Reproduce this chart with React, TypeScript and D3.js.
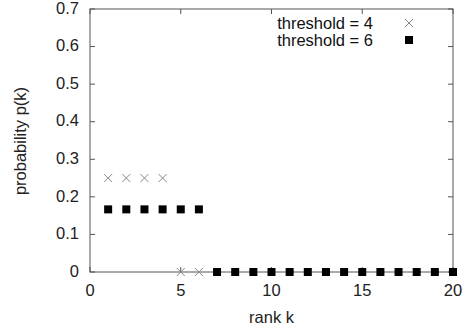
import { useEffect, useRef } from "react";
import * as d3 from "d3";

const ranks4 = [1, 2, 3, 4, 5, 6];
const probs4 = [0.25, 0.25, 0.25, 0.25, 0, 0];
const ranks6 = [1, 2, 3, 4, 5, 6, 7, 8, 9, 10, 11, 12, 13, 14, 15, 16, 17, 18, 19, 20];
const probs6 = [
  0.1667, 0.1667, 0.1667, 0.1667, 0.1667, 0.1667,
  0, 0, 0, 0, 0, 0, 0, 0, 0, 0, 0, 0, 0, 0,
];
const xTicks = [0, 5, 10, 15, 20];
const yTicks = [0, 0.1, 0.2, 0.3, 0.4, 0.5, 0.6, 0.7];
const seriesLabels = ["threshold = 4", "threshold = 6"];

export default function App() {
  const svgRef = useRef<SVGSVGElement>(null);

  useEffect(() => {
    const svg = d3.select(svgRef.current);
    svg.selectAll("*").remove();

    const width = 467;
    const height = 333;
    const left = 90, right = 453, top = 9, bottom = 272;
    const font = "'Liberation Sans', Arial, sans-serif";
    const fontSize = "16.5px";
    const textColor = "#222";
    const axisColor = "#555";

    svg.attr("width", width).attr("height", height);
    svg.append("rect").attr("width", width).attr("height", height).attr("fill", "#fff");

    const x = d3.scaleLinear().domain([0, 20]).range([left, right]);
    const y = d3.scaleLinear().domain([0, 0.7]).range([bottom, top]);

    // frame
    svg.append("rect")
      .attr("x", left).attr("y", top)
      .attr("width", right - left).attr("height", bottom - top)
      .attr("fill", "none").attr("stroke", axisColor).attr("stroke-width", 1);

    const tickLen = 5;
    // y ticks, inside on both sides
    yTicks.forEach(t => {
      svg.append("line").attr("x1", left).attr("x2", left + tickLen)
        .attr("y1", y(t)).attr("y2", y(t)).attr("stroke", axisColor);
      svg.append("line").attr("x1", right).attr("x2", right - tickLen)
        .attr("y1", y(t)).attr("y2", y(t)).attr("stroke", axisColor);
      svg.append("text")
        .attr("x", left - 11).attr("y", y(t) - 1).attr("dy", "0.35em")
        .attr("text-anchor", "end")
        .style("font-family", font).style("font-size", fontSize).attr("fill", textColor)
        .text(String(t));
    });

    xTicks.forEach(t => {
      svg.append("line").attr("x1", x(t)).attr("x2", x(t))
        .attr("y1", bottom).attr("y2", bottom - tickLen).attr("stroke", axisColor);
      svg.append("line").attr("x1", x(t)).attr("x2", x(t))
        .attr("y1", top).attr("y2", top + tickLen).attr("stroke", axisColor);
      svg.append("text")
        .attr("x", x(t)).attr("y", 290).attr("dy", "0.35em")
        .attr("text-anchor", "middle")
        .style("font-family", font).style("font-size", fontSize).attr("fill", textColor)
        .text(String(t));
    });

    // axis titles
    svg.append("text")
      .attr("x", (left + right) / 2).attr("y", 317).attr("dy", "0.35em")
      .attr("text-anchor", "middle")
      .style("font-family", font).style("font-size", fontSize).attr("fill", textColor)
      .text("rank k");
    svg.append("text")
      .attr("transform", `translate(20,141) rotate(-90)`)
      .attr("dy", "0.35em")
      .attr("text-anchor", "middle")
      .style("font-family", font).style("font-size", fontSize).attr("fill", textColor)
      .text("probability p(k)");

    const crossPath = (cx: number, cy: number, r: number) =>
      `M${cx - r},${cy - r}L${cx + r},${cy + r}M${cx - r},${cy + r}L${cx + r},${cy - r}`;
    const sq = 8;

    // threshold = 4 : grey crosses
    ranks4.forEach((k, i) => {
      svg.append("path")
        .attr("d", crossPath(x(k), y(probs4[i]), 4))
        .attr("stroke", "#888").attr("stroke-width", 1).attr("fill", "none");
    });

    // threshold = 6 : black squares
    ranks6.forEach((k, i) => {
      svg.append("rect")
        .attr("x", x(k) - sq / 2).attr("y", y(probs6[i]) - sq / 2)
        .attr("width", sq).attr("height", sq).attr("fill", "#000");
    });

    // legend
    const legendY = [23, 40];
    seriesLabels.forEach((label, i) => {
      svg.append("text")
        .attr("x", 373).attr("y", legendY[i]).attr("dy", "0.35em")
        .attr("text-anchor", "end")
        .style("font-family", font).style("font-size", fontSize).attr("fill", "#111")
        .text(label);
    });
    svg.append("path")
      .attr("d", crossPath(409, legendY[0], 4))
      .attr("stroke", "#888").attr("stroke-width", 1).attr("fill", "none");
    svg.append("rect")
      .attr("x", 409 - sq / 2).attr("y", legendY[1] - sq / 2)
      .attr("width", sq).attr("height", sq).attr("fill", "#000");
  }, []);

  return (
    <svg
      ref={svgRef}
      style={{ position: "absolute", left: 0, top: 0, display: "block" }}
    ></svg>
  );
}
